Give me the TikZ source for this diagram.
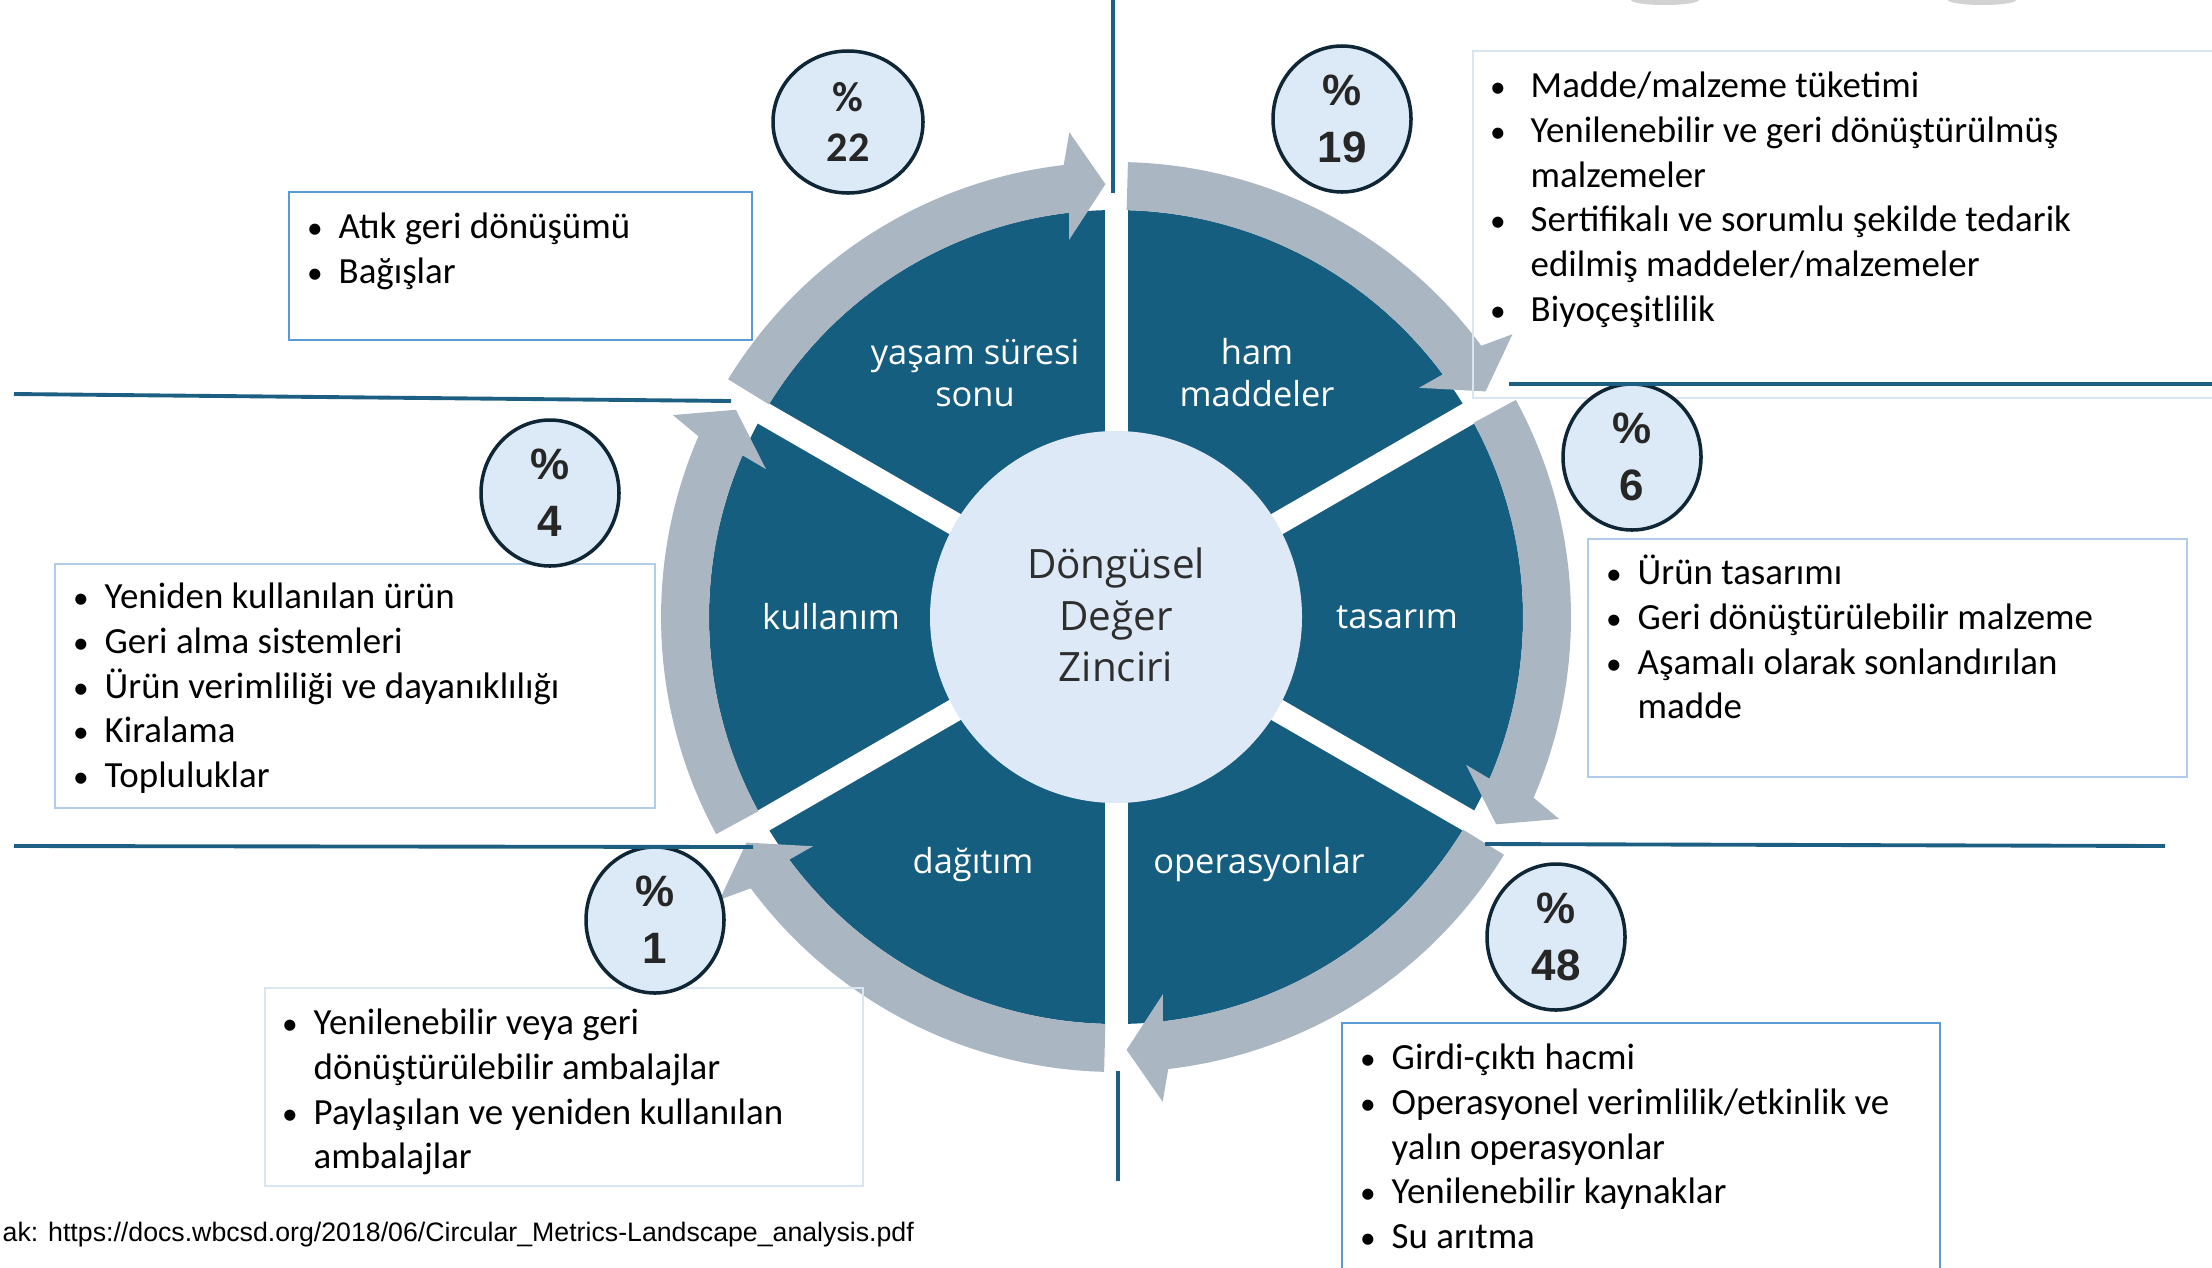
\documentclass[tikz,border=0pt]{standalone}
\usepackage{fontspec}
\setmainfont{Carlito}
\newfontfamily\wheelfont{Open Sans}
\newfontfamily\srcfont{Liberation Sans}
\usetikzlibrary{calc,shapes.geometric}

\definecolor{wheelblue}{HTML}{165E80}
\definecolor{ringgray}{HTML}{ABB6C3}
\definecolor{corefill}{HTML}{DDE9F6}
\definecolor{coretext}{HTML}{2E2E2E}
\definecolor{pctfill}{HTML}{DCE9F6}
\definecolor{pctedge}{HTML}{0E2635}
\definecolor{pcttext}{HTML}{262626}
\definecolor{linkblue}{HTML}{1D5F82}
\definecolor{boxmid}{HTML}{5B9BD5}
\definecolor{boxlight}{HTML}{B4CCEB}
\definecolor{boxfaint}{HTML}{DAE5F2}

\newcommand{\itm}[2][1.6mm]{\strut\llap{\scalebox{0.85}{\textbullet}\hspace{#1}}#2}

\begin{document}
\begin{tikzpicture}
  [wheeltext/.style={text=white, align=center, font=\wheelfont\fontsize{9.8}{12}\selectfont},
   pct/.style={ellipse, draw=pctedge, fill=pctfill, line width=1pt, minimum width=1.38cm,
     minimum height=1.46cm, inner sep=0pt, align=center, text=pcttext,
     font=\srcfont\bfseries\fontsize{12.5}{16.2}\selectfont},
   list/.style={align=left, inner sep=0pt, anchor=north west, font=\fontsize{10.5}{12.7}\selectfont},
   link/.style={draw=linkblue, line width=1.1pt},
   framemid/.style={draw=boxmid, line width=0.7pt},
   framelight/.style={draw=boxlight, line width=0.8pt},
   framefaint/.style={draw=boxfaint, line width=0.8pt}]

\useasboundingbox (0,0) rectangle (22.12,-12.67);

\fill[gray!35] (16.65,0) ellipse (0.34 and 0.05);
\fill[gray!35] (19.82,0) ellipse (0.34 and 0.05);

% wheel
\coordinate (C) at (11.16,-6.17);
\fill[wheelblue] (C) circle (4.07);
\foreach \g in {150,90,...,-150}
  \draw[white, line width=0.23cm] (C) -- ($(C)+(\g:4.3)$);

\foreach \g in {150,90,...,-150}{
  \pgfmathsetmacro\ta{\g-1.5}
  \pgfmathsetmacro\hb{\g-53.4}
  \pgfmathsetmacro\ho{\g-54.5}
  \pgfmathsetmacro\hi{\g-52.9}
  \pgfmathsetmacro\tp{\g-58.6}
  \fill[ringgray] ($(C)+(\ta:4.55)$) arc[start angle=\ta, end angle=\hb, radius=4.55]
    -- ($(C)+(\ho:4.87)$) -- ($(C)+(\tp:4.33)$) -- ($(C)+(\hi:3.80)$)
    -- ($(C)+(\hb:4.07)$) arc[start angle=\hb, end angle=\ta, radius=4.07] -- cycle;
}

\fill[corefill] (C) circle (1.86);
\node[text=coretext, align=center, font=\wheelfont\fontsize{11.5}{14.6}\selectfont] (core) at ($(C)+(0,0.02)$) {Döngüsel\\Değer\\Zinciri};

\node[wheeltext] (yasam) at ($(C)+(120:2.82)$) {yaşam süresi\\sonu};
\node[wheeltext] (ham) at ($(C)+(60:2.82)$) {ham\\maddeler};
\node[wheeltext] (tasarim) at ($(C)+(0:2.81)$) {tasarım};
\node[wheeltext] (kullanim) at ($(C)+(180:2.85)$) {kullanım};
\node[wheeltext] (dagitim) at ($(C)+(240:2.86)$) {dağıtım};
\node[wheeltext] (operasyon) at ($(C)+(300:2.86)$) {operasyonlar};

% frames
\draw[framemid] (2.89,-1.92) rectangle (7.52,-3.40);
\draw[framefaint] (14.73,-0.51) rectangle (22.40,-3.98);
\draw[framelight] (15.88,-5.39) rectangle (21.87,-7.77);
\draw[framelight] (0.55,-5.64) rectangle (6.55,-8.08);
\draw[framefaint] (2.65,-9.88) rectangle (8.63,-11.86);
\draw[framemid] (13.42,-10.23) rectangle (19.40,-12.90);

% percentages
\node[pct, minimum width=1.50cm, minimum height=1.42cm, font=\bfseries\fontsize{12}{14.2}\selectfont]
  (p22) at (8.48,-1.22) {\%\\22};
\node[pct] (p19) at (13.42,-1.19) {\%\\19};
\node[pct] (p6) at (16.32,-4.57) {\%\\6};
\node[pct] (p4) at (5.50,-4.93) {\%\\4};
\node[pct] (p1) at (6.55,-9.20) {\%\\1};
\node[pct] (p48) at (15.56,-9.37) {\%\\48};

% links
\coordinate (l1a) at (0.14,-3.94);
\coordinate (l1b) at (7.31,-4.01);
\coordinate (l2a) at (15.09,-3.84);
\coordinate (l2b) at (22.12,-3.84);
\coordinate (l3a) at (0.14,-8.46);
\coordinate (l3b) at (7.53,-8.47);
\coordinate (l4a) at (14.85,-8.44);
\coordinate (l4b) at (21.65,-8.46);
\coordinate (v1a) at (11.13,0);
\coordinate (v1b) at (11.13,-1.93);
\coordinate (v2a) at (11.18,-10.71);
\coordinate (v2b) at (11.18,-11.81);
\draw[link] (l1a) -- (l1b);
\draw[link] (l2a) -- (l2b);
\draw[link] (l3a) -- (l3b);
\draw[link] (l4a) -- (l4b);
\draw[link, line width=1pt] (v1a) -- (v1b);
\draw[link, line width=1pt] (v2a) -- (v2b);

% lists
\node[list] (listA) at (3.38,-2.07) {\itm{Atık geri dönüşümü}\\ \itm{Bağışlar}};
\node[list] (listB) at (15.30,-0.66) {\itm[2.5mm]{Madde/malzeme tüketimi}\\
  \itm[2.5mm]{Yenilenebilir ve geri dönüştürülmüş}\\ malzemeler\\
  \itm[2.5mm]{Sertifikalı ve sorumlu şekilde tedarik}\\ edilmiş maddeler/malzemeler\\
  \itm[2.5mm]{Biyoçeşitlilik}};
\node[list] (listC) at (16.37,-5.53) {\itm{Ürün tasarımı}\\ \itm{Geri dönüştürülebilir malzeme}\\
  \itm{Aşamalı olarak sonlandırılan}\\ madde};
\node[list] (listD) at (1.04,-5.77) {\itm{Yeniden kullanılan ürün}\\ \itm{Geri alma sistemleri}\\
  \itm{Ürün verimliliği ve dayanıklılığı}\\ \itm{Kiralama}\\ \itm{Topluluklar}};
\node[list] (listE) at (3.13,-10.03) {\itm{Yenilenebilir veya geri}\\ dönüştürülebilir ambalajlar\\
  \itm{Paylaşılan ve yeniden kullanılan}\\ ambalajlar};
\node[list] (listF) at (13.91,-10.38) {\itm{Girdi-çıktı hacmi}\\ \itm{Operasyonel verimlilik/etkinlik ve}\\
  yalın operasyonlar\\ \itm{Yenilenebilir kaynaklar}\\ \itm{Su arıtma}};

\node[anchor=base west, inner sep=0pt, font=\srcfont\fontsize{7.6}{9}\selectfont] (src) at (0.02,-12.41)
  {ak: https://docs.wbcsd.org/2018/06/Circular\_Metrics-Landscape\_analysis.pdf};
\end{tikzpicture}
\end{document}
